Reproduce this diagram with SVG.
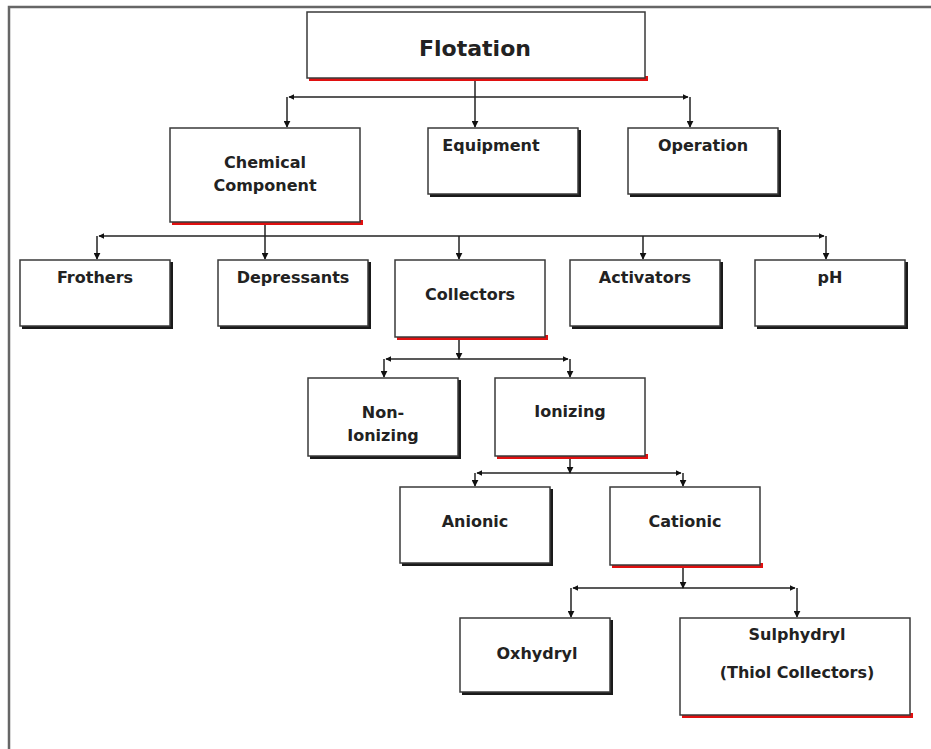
<svg xmlns="http://www.w3.org/2000/svg" width="931" height="749" viewBox="0 0 931 749">
<defs>
<marker id="ah" viewBox="0 0 10 10" refX="9" refY="5" markerWidth="7" markerHeight="7" orient="auto-start-reverse" markerUnits="userSpaceOnUse">
<path d="M0,0 L10,5 L0,10 z" fill="#111"/>
</marker>
<marker id="ahs" viewBox="0 0 10 10" refX="9" refY="5" markerWidth="6" markerHeight="6" orient="auto-start-reverse" markerUnits="userSpaceOnUse">
<path d="M0,0 L10,5 L0,10 z" fill="#111"/>
</marker>
</defs>
<style>
.box{fill:#fff;stroke:#3a3a3a;stroke-width:1.5}
.sh{fill:#1a1a1a}
.shr{fill:#e01010}
.lbl{font-family:"DejaVu Sans",sans-serif;font-weight:bold;font-size:16px;fill:#222;text-anchor:middle}
.big{font-size:22px}
.bus{stroke:#222;stroke-width:1.5;fill:none;marker-start:url(#ahs);marker-end:url(#ahs)}
.drop{stroke:#222;stroke-width:1.5;fill:none;marker-end:url(#ah)}
.frame{stroke:#666;stroke-width:2.5;fill:none}
</style>
<rect width="931" height="749" fill="#fff"/>
<path class="frame" d="M9,749 L9,7 L931,7"/>

<g id="connectors">
<path class="bus" d="M289,97 L688,97"/>
<path class="drop" d="M475,80 L475,127"/>
<path class="drop" d="M287,97 L287,127"/>
<path class="drop" d="M690,97 L690,127"/>

<path class="bus" d="M99,236 L824,236"/>
<path class="drop" d="M265,225 L265,259"/>
<path class="drop" d="M97,236 L97,259"/>
<path class="drop" d="M459,236 L459,259"/>
<path class="drop" d="M643,236 L643,259"/>
<path class="drop" d="M826,236 L826,259"/>

<path class="bus" d="M386,359 L568,359"/>
<path class="drop" d="M459,340 L459,359"/>
<path class="drop" d="M384,359 L384,377"/>
<path class="drop" d="M570,359 L570,377"/>

<path class="bus" d="M477,473 L681,473"/>
<path class="drop" d="M570,459 L570,473"/>
<path class="drop" d="M475,473 L475,486"/>
<path class="drop" d="M683,473 L683,486"/>

<path class="bus" d="M573,588 L795,588"/>
<path class="drop" d="M683,568 L683,588"/>
<path class="drop" d="M571,588 L571,617"/>
<path class="drop" d="M797,588 L797,617"/>
</g>

<g id="flotation">
<rect class="shr" x="309" y="76" width="339" height="5"/>
<rect class="box" x="307" y="12" width="338" height="66"/>
<text class="lbl big" x="475" y="56">Flotation</text>
</g>

<g id="chemical">
<rect class="shr" x="172" y="220" width="191" height="5"/>
<rect class="box" x="170" y="128" width="190" height="94"/>
<text class="lbl" x="265" y="168">Chemical</text>
<text class="lbl" x="265" y="191">Component</text>
</g>

<g id="equipment">
<rect class="sh" x="430" y="130" width="151" height="67"/>
<rect class="box" x="428" y="128" width="150" height="66"/>
<text class="lbl" x="491" y="151">Equipment</text>
</g>

<g id="operation">
<rect class="sh" x="630" y="130" width="151" height="67"/>
<rect class="box" x="628" y="128" width="150" height="66"/>
<text class="lbl" x="703" y="151">Operation</text>
</g>

<g id="frothers">
<rect class="sh" x="22" y="262" width="151" height="67"/>
<rect class="box" x="20" y="260" width="150" height="66"/>
<text class="lbl" x="95" y="283">Frothers</text>
</g>

<g id="depressants">
<rect class="sh" x="220" y="262" width="151" height="67"/>
<rect class="box" x="218" y="260" width="150" height="66"/>
<text class="lbl" x="293" y="283">Depressants</text>
</g>

<g id="collectors">
<rect class="shr" x="397" y="335" width="151" height="5"/>
<rect class="box" x="395" y="260" width="150" height="77"/>
<text class="lbl" x="470" y="300">Collectors</text>
</g>

<g id="activators">
<rect class="sh" x="572" y="262" width="151" height="67"/>
<rect class="box" x="570" y="260" width="150" height="66"/>
<text class="lbl" x="645" y="283">Activators</text>
</g>

<g id="ph">
<rect class="sh" x="757" y="262" width="151" height="67"/>
<rect class="box" x="755" y="260" width="150" height="66"/>
<text class="lbl" x="830" y="283">pH</text>
</g>

<g id="nonionizing">
<rect class="sh" x="310" y="380" width="151" height="79"/>
<rect class="box" x="308" y="378" width="150" height="78"/>
<text class="lbl" x="383" y="418">Non-</text>
<text class="lbl" x="383" y="441">Ionizing</text>
</g>

<g id="ionizing">
<rect class="shr" x="497" y="454" width="151" height="5"/>
<rect class="box" x="495" y="378" width="150" height="78"/>
<text class="lbl" x="570" y="417">Ionizing</text>
</g>

<g id="anionic">
<rect class="sh" x="402" y="489" width="151" height="77"/>
<rect class="box" x="400" y="487" width="150" height="76"/>
<text class="lbl" x="475" y="527">Anionic</text>
</g>

<g id="cationic">
<rect class="shr" x="612" y="563" width="151" height="5"/>
<rect class="box" x="610" y="487" width="150" height="78"/>
<text class="lbl" x="685" y="527">Cationic</text>
</g>

<g id="oxhydryl">
<rect class="sh" x="462" y="620" width="151" height="75"/>
<rect class="box" x="460" y="618" width="150" height="74"/>
<text class="lbl" x="537" y="659">Oxhydryl</text>
</g>

<g id="sulphydryl">
<rect class="shr" x="682" y="713" width="231" height="5"/>
<rect class="box" x="680" y="618" width="230" height="97"/>
<text class="lbl" x="797" y="640">Sulphydryl</text>
<text class="lbl" x="797" y="678">(Thiol Collectors)</text>
</g>
</svg>
